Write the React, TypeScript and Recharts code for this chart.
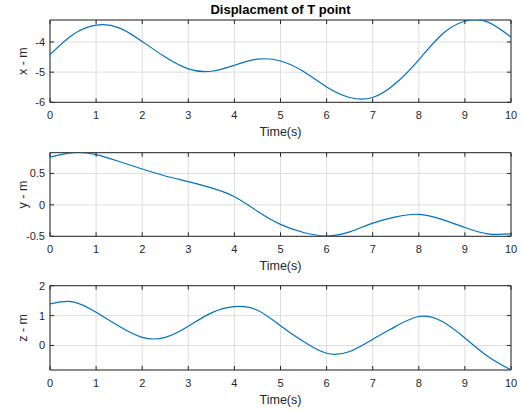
import React from 'react'
import {
  LineChart,
  Line,
  XAxis,
  YAxis,
  CartesianGrid,
  ReferenceArea
} from 'recharts'

// sample times (s)
const time = [0, 0.5, 1, 1.5, 2, 2.5, 3, 3.5, 4, 4.5, 5, 5.5, 6, 6.5, 7, 7.5, 8, 8.5, 9, 9.5, 10]

// displacement components (m)
const xDisp = [-4.42, -3.75, -3.44, -3.53, -3.98, -4.5, -4.89, -4.97, -4.77, -4.57, -4.63, -4.98, -5.49, -5.84, -5.84, -5.37, -4.59, -3.75, -3.31, -3.34, -3.84]
const yDisp = [0.76, 0.83, 0.8, 0.69, 0.57, 0.46, 0.37, 0.27, 0.13, -0.1, -0.31, -0.44, -0.495, -0.43, -0.29, -0.19, -0.15, -0.23, -0.36, -0.46, -0.46]
const zDisp = [1.39, 1.46, 1.11, 0.64, 0.27, 0.27, 0.64, 1.09, 1.3, 1.18, 0.66, 0.13, -0.26, -0.2, 0.21, 0.64, 0.97, 0.81, 0.25, -0.37, -0.82]

const timeTicks = [0, 1, 2, 3, 4, 5, 6, 7, 8, 9, 10]
const xTicks = [-6, -5, -4]
const yTicks = [-0.5, 0, 0.5]
const zTicks = [0, 1, 2]

const INK = '#262626'
const BLUE = '#0072BD'
const FONT = '"Liberation Sans", Arial, Helvetica, sans-serif'
const PLOT_W = 461
const TICK_LEN = 4

interface PanelProps {
  values: number[]
  label: string
  domain: [number, number]
  ticks: number[]
  top: number
  plotTop: number
  plotH: number
  height: number
}

function Panel({ values, label, domain, ticks, top, plotTop, plotH, height }: PanelProps) {
  const data = time.map((t, i) => ({ t, v: values[i] }))

  // MATLAB style: ticks point inward on both the bottom and top edges
  const renderXTick = (p: any) => (
    <g>
      <line x1={p.x} y1={p.y} x2={p.x} y2={p.y - TICK_LEN} stroke={INK} />
      <line x1={p.x} y1={p.y - plotH} x2={p.x} y2={p.y - plotH + TICK_LEN} stroke={INK} />
      <text x={p.x} y={p.y + 16.7} textAnchor="middle" fontSize={11} fill={INK} fontFamily={FONT}>
        {p.payload.value}
      </text>
    </g>
  )

  const renderYTick = (p: any) => (
    <g>
      <line x1={p.x} y1={p.y} x2={p.x + TICK_LEN} y2={p.y} stroke={INK} />
      <line x1={p.x + PLOT_W - TICK_LEN} y1={p.y} x2={p.x + PLOT_W} y2={p.y} stroke={INK} />
      <text x={p.x - 5} y={p.y + 4} textAnchor="end" fontSize={11} fill={INK} fontFamily={FONT}>
        {p.payload.value}
      </text>
    </g>
  )

  const xTitle = (p: any) => {
    const vb = p.viewBox
    return (
      <text x={vb.x + vb.width / 2} y={vb.y + 33.5} textAnchor="middle" fontSize={12.5} fill={INK} fontFamily={FONT}>
        Time(s)
      </text>
    )
  }

  const yTitle = (p: any) => {
    const vb = p.viewBox
    const cy = vb.y + vb.height / 2
    return (
      <text
        x={23}
        y={cy}
        transform={`rotate(-90, 23, ${cy})`}
        textAnchor="middle"
        dominantBaseline="central"
        fontSize={12.5}
        fill={INK}
        fontFamily={FONT}
      >
        {label}
      </text>
    )
  }

  return (
    <div style={{ position: 'absolute', left: 0, top }}>
      <LineChart
        width={522}
        height={height}
        data={data}
        margin={{ top: plotTop, right: 11, left: 0, bottom: 0 }}
      >
        <CartesianGrid stroke="#dedede" />
        <XAxis
          dataKey="t"
          type="number"
          domain={[0, 10]}
          ticks={timeTicks}
          interval={0}
          height={height - plotTop - plotH}
          axisLine={false}
          tickLine={false}
          tickSize={0}
          tickMargin={0}
          tick={renderXTick}
          label={{ content: xTitle }}
        />
        <YAxis
          type="number"
          domain={domain}
          ticks={ticks}
          interval={0}
          allowDataOverflow
          width={50}
          axisLine={false}
          tickLine={false}
          tickSize={0}
          tickMargin={0}
          tick={renderYTick}
          label={{ content: yTitle }}
        />
        <ReferenceArea x1={0} x2={10} y1={domain[0]} y2={domain[1]} fill="none" stroke={INK} strokeWidth={1} />
        <Line
          type="natural"
          dataKey="v"
          stroke={BLUE}
          strokeWidth={1.2}
          dot={false}
          isAnimationActive={false}
        />
      </LineChart>
    </div>
  )
}

export default function App() {
  return (
    <div style={{ position: 'absolute', left: 0, top: 0, width: 522, height: 412, background: '#fff' }}>
      <div
        style={{
          position: 'absolute',
          left: 50,
          width: PLOT_W,
          top: 3,
          textAlign: 'center',
          fontFamily: FONT,
          fontWeight: 'bold',
          fontSize: 13,
          lineHeight: '14px',
          color: '#000'
        }}
      >
        Displacment of T point
      </div>
      <Panel values={xDisp} label="x - m" domain={[-6, -3.27]} ticks={xTicks} top={0} plotTop={20} plotH={82.3} height={140} />
      <Panel values={yDisp} label="y - m" domain={[-0.5, 0.83]} ticks={yTicks} top={133} plotTop={19.7} plotH={83.6} height={140} />
      <Panel values={zDisp} label="z - m" domain={[-0.82, 2]} ticks={zTicks} top={266} plotTop={19.7} plotH={84.3} height={146} />
    </div>
  )
}
